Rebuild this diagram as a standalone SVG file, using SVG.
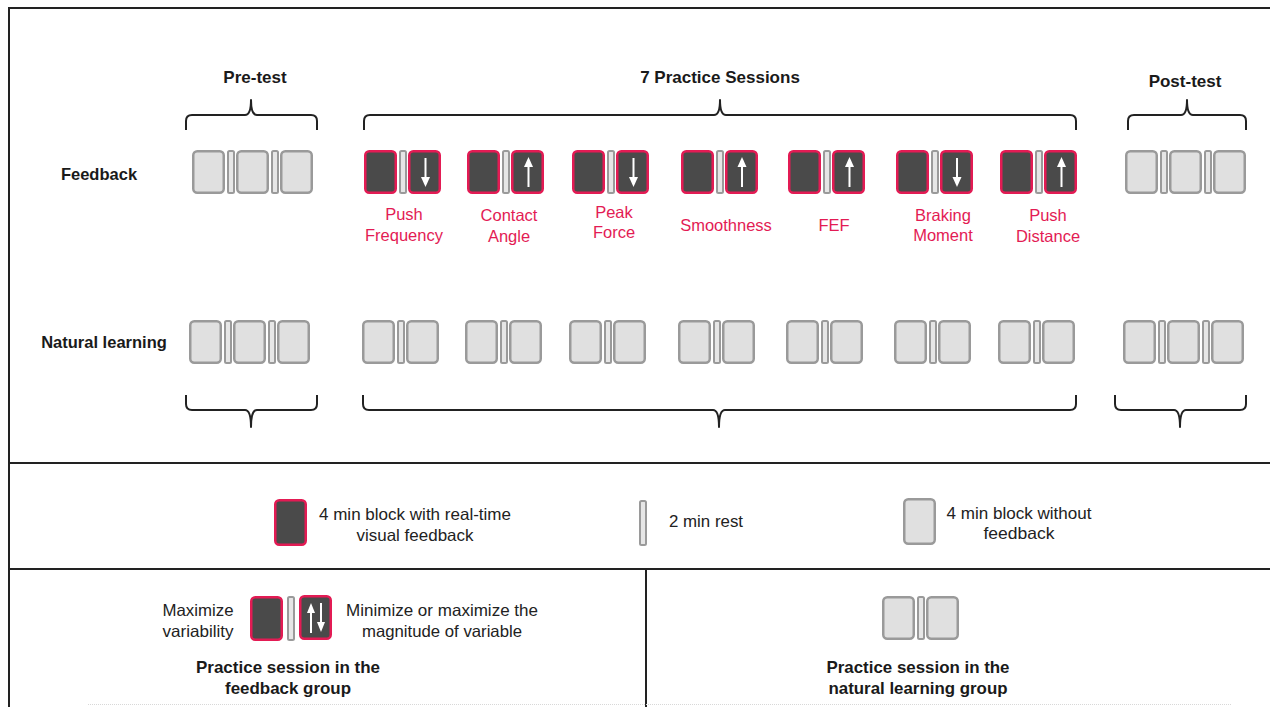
<svg xmlns="http://www.w3.org/2000/svg" xmlns:xlink="http://www.w3.org/1999/xlink" width="1270" height="707" viewBox="0 0 1270 707">
<style>
  text { font-family: "Liberation Sans", Arial, sans-serif; }
  .title { font-size: 17px; font-weight: bold; fill: #1a1a1a; text-anchor: middle; }
  .row { font-size: 16.5px; font-weight: bold; fill: #1a1a1a; text-anchor: middle; }
  .lbl { font-size: 16.5px; fill: #e31b54; text-anchor: middle; }
  .leg { font-size: 16.5px; fill: #222; text-anchor: middle; }
  .bold { font-size: 16.5px; font-weight: bold; fill: #1a1a1a; text-anchor: middle; }
  .dk { fill: #4a4a4a; stroke: #e31b54; stroke-width: 2.5; }
  .gr { fill: #e0e0e0; stroke: #9a9a9a; stroke-width: 2.5; }
  .rs { fill: #e6e6e6; stroke: #9a9a9a; stroke-width: 2; }
  .frame { stroke: #222; stroke-width: 2; fill: none; }
  .brace { stroke: #222; stroke-width: 2; fill: none; stroke-linejoin: round; }
  .arr { stroke: #fff; stroke-width: 2; }
  .arrh { fill: #fff; }
</style>
<defs>
  <g id="fbS">
    <rect class="dk" x="1.25" y="1.25" width="30.5" height="41.5" rx="4"/>
    <rect class="rs" x="36" y="1" width="6" height="42" rx="1.5"/>
    <rect class="dk" x="45.25" y="1.25" width="30.5" height="41.5" rx="4"/>
  </g>
  <g id="nlS">
    <rect class="gr" x="1.25" y="1.25" width="30.5" height="41.5" rx="4"/>
    <rect class="rs" x="36" y="1" width="6" height="42" rx="1.5"/>
    <rect class="gr" x="45.25" y="1.25" width="30.5" height="41.5" rx="4"/>
  </g>
  <g id="test3">
    <rect class="gr" x="1.25" y="1.25" width="30.5" height="41.5" rx="4"/>
    <rect class="rs" x="36" y="1" width="6" height="42" rx="1.5"/>
    <rect class="gr" x="45.25" y="1.25" width="30.5" height="41.5" rx="4"/>
    <rect class="rs" x="80" y="1" width="6" height="42" rx="1.5"/>
    <rect class="gr" x="89.25" y="1.25" width="30.5" height="41.5" rx="4"/>
  </g>
  <g id="aDown">
    <line class="arr" x1="0" y1="8" x2="0" y2="29"/>
    <polygon class="arrh" points="-4.5,27 4.5,27 0,37"/>
  </g>
  <g id="aUp">
    <line class="arr" x1="0" y1="16" x2="0" y2="37"/>
    <polygon class="arrh" points="-4.5,17 4.5,17 0,7"/>
  </g>
</defs>

<rect width="1270" height="707" fill="#fff"/>

<g id="frame">
  <path class="frame" d="M1270,8 H9 V707"/>
  <line class="frame" x1="9" y1="463" x2="1270" y2="463"/>
  <line class="frame" x1="9" y1="569" x2="1270" y2="569"/>
  <line class="frame" x1="646" y1="569" x2="646" y2="707"/>
  <line x1="88" y1="704.5" x2="1232" y2="704.5" stroke="#d8d8d8" stroke-width="1" stroke-dasharray="1,1"/>
</g>

<g id="titles">
  <text class="title" x="255" y="83">Pre-test</text>
  <text class="title" x="720" y="83">7 Practice Sessions</text>
  <text class="title" x="1185" y="87">Post-test</text>
  <text class="row" x="99" y="180">Feedback</text>
  <text class="row" x="104" y="348">Natural learning</text>
</g>

<g id="connectors">
  <path class="brace" d="M186,130 V121 Q186,115 192,115 H245 Q251,115 251,100 Q251,115 257,115 H311 Q317,115 317,121 V130"/>
  <path class="brace" d="M364,130 V121 Q364,115 370,115 H714 Q720,115 720,100 Q720,115 726,115 H1070 Q1076,115 1076,121 V130"/>
  <path class="brace" d="M1128,130 V121 Q1128,115 1134,115 H1181 Q1187,115 1187,100 Q1187,115 1193,115 H1240 Q1246,115 1246,121 V130"/>
  <path class="brace" d="M186,395 V404 Q186,410 192,410 H245 Q251,410 251,427 Q251,410 257,410 H311 Q317,410 317,404 V395"/>
  <path class="brace" d="M363,395 V404 Q363,410 369,410 H713 Q719,410 719,427 Q719,410 725,410 H1070 Q1076,410 1076,404 V395"/>
  <path class="brace" d="M1115,395 V404 Q1115,410 1121,410 H1174 Q1180,410 1180,427 Q1180,410 1186,410 H1240 Q1246,410 1246,404 V395"/>
</g>

<g id="pre-feedback"><use xlink:href="#test3" x="192" y="150"/></g>
<g id="post-feedback"><use xlink:href="#test3" x="1125" y="150"/></g>
<g id="pre-natural"><use xlink:href="#test3" x="189" y="320"/></g>
<g id="post-natural"><use xlink:href="#test3" x="1123" y="320"/></g>

<g id="s1-feedback">
  <use xlink:href="#fbS" x="364" y="150"/>
  <use xlink:href="#aDown" x="425.5" y="150"/>
  <text class="lbl" x="404" y="220">Push</text>
  <text class="lbl" x="404" y="241">Frequency</text>
</g>
<g id="s2-feedback">
  <use xlink:href="#fbS" x="467" y="150"/>
  <use xlink:href="#aUp" x="528.5" y="150"/>
  <text class="lbl" x="509" y="221">Contact</text>
  <text class="lbl" x="509" y="242">Angle</text>
</g>
<g id="s3-feedback">
  <use xlink:href="#fbS" x="572" y="150"/>
  <use xlink:href="#aDown" x="633.5" y="150"/>
  <text class="lbl" x="614" y="218">Peak</text>
  <text class="lbl" x="614" y="238">Force</text>
</g>
<g id="s4-feedback">
  <use xlink:href="#fbS" x="681" y="150"/>
  <use xlink:href="#aUp" x="742" y="150"/>
  <text class="lbl" x="726" y="231">Smoothness</text>
</g>
<g id="s5-feedback">
  <use xlink:href="#fbS" x="788" y="150"/>
  <use xlink:href="#aUp" x="849.5" y="150"/>
  <text class="lbl" x="834" y="231">FEF</text>
</g>
<g id="s6-feedback">
  <use xlink:href="#fbS" x="896" y="150"/>
  <use xlink:href="#aDown" x="957" y="150"/>
  <text class="lbl" x="943" y="221">Braking</text>
  <text class="lbl" x="943" y="241">Moment</text>
</g>
<g id="s7-feedback">
  <use xlink:href="#fbS" x="1000" y="150"/>
  <use xlink:href="#aUp" x="1061.5" y="150"/>
  <text class="lbl" x="1048" y="221">Push</text>
  <text class="lbl" x="1048" y="242">Distance</text>
</g>

<g id="s1-natural"><use xlink:href="#nlS" x="362" y="320"/></g>
<g id="s2-natural"><use xlink:href="#nlS" x="465" y="320"/></g>
<g id="s3-natural"><use xlink:href="#nlS" x="569" y="320"/></g>
<g id="s4-natural"><use xlink:href="#nlS" x="678" y="320"/></g>
<g id="s5-natural"><use xlink:href="#nlS" x="786" y="320"/></g>
<g id="s6-natural"><use xlink:href="#nlS" x="894" y="320"/></g>
<g id="s7-natural"><use xlink:href="#nlS" x="998" y="320"/></g>

<g id="legend-feedback-block">
  <rect class="dk" x="275.25" y="500.25" width="30.5" height="44.5" rx="4"/>
  <text class="leg" x="415" y="520" textLength="192" lengthAdjust="spacingAndGlyphs">4 min block with real-time</text>
  <text class="leg" x="415" y="541" textLength="117" lengthAdjust="spacingAndGlyphs">visual feedback</text>
</g>
<g id="legend-rest">
  <rect class="rs" x="640" y="501" width="6" height="44" rx="1.5"/>
  <text class="leg" x="706" y="527" textLength="74" lengthAdjust="spacingAndGlyphs">2 min rest</text>
</g>
<g id="legend-block">
  <rect class="gr" x="904.25" y="499.25" width="30.5" height="44.5" rx="4"/>
  <text class="leg" x="1019" y="519" textLength="145" lengthAdjust="spacingAndGlyphs">4 min block without</text>
  <text class="leg" x="1019" y="539" textLength="71" lengthAdjust="spacingAndGlyphs">feedback</text>
</g>

<g id="feedback-session-example">
  <text class="leg" x="198" y="616" textLength="71" lengthAdjust="spacingAndGlyphs">Maximize</text>
  <text class="leg" x="198" y="637" textLength="71" lengthAdjust="spacingAndGlyphs">variability</text>
  <rect class="dk" x="251.25" y="597.25" width="30.5" height="42.5" rx="4"/>
  <rect class="rs" x="288" y="597" width="6" height="43" rx="1.5"/>
  <rect class="dk" x="300.25" y="596.25" width="30.5" height="42.5" rx="4"/>
  <line class="arr" x1="311" y1="612" x2="311" y2="633"/>
  <polygon class="arrh" points="307,613 315,613 311,603"/>
  <line class="arr" x1="321" y1="603" x2="321" y2="624"/>
  <polygon class="arrh" points="317,622 325,622 321,632"/>
  <text class="leg" x="442" y="616" textLength="192" lengthAdjust="spacingAndGlyphs">Minimize or maximize the</text>
  <text class="leg" x="442" y="637" textLength="160" lengthAdjust="spacingAndGlyphs">magnitude of variable</text>
  <text class="bold" x="288" y="673" textLength="184" lengthAdjust="spacingAndGlyphs">Practice session in the</text>
  <text class="bold" x="288" y="694" textLength="126" lengthAdjust="spacingAndGlyphs">feedback group</text>
</g>

<g id="natural-session-example">
  <use xlink:href="#nlS" x="882" y="596"/>
  <text class="bold" x="918" y="673" textLength="183" lengthAdjust="spacingAndGlyphs">Practice session in the</text>
  <text class="bold" x="918" y="694" textLength="179" lengthAdjust="spacingAndGlyphs">natural learning group</text>
</g>
</svg>
